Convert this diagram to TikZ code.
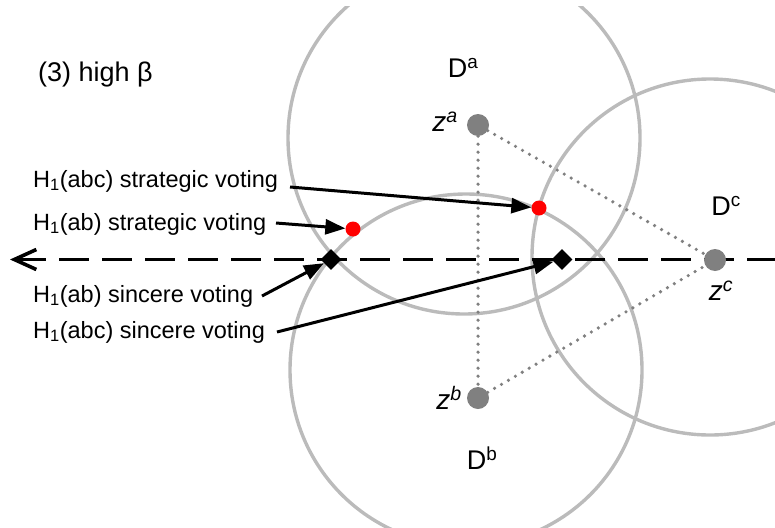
\documentclass[tikz,border=0pt]{standalone}
\usepackage{fontspec}
\setmainfont{Liberation Sans}
\usetikzlibrary{arrows.meta,shapes.geometric}
\definecolor{circgray}{RGB}{187,187,187}
\definecolor{dotgray}{RGB}{128,128,128}
\definecolor{hred}{RGB}{255,0,0}
\begin{document}
\begin{tikzpicture}[x=1pt,y=-1pt,
  region/.style={draw=circgray, line width=3.4pt},
  ideal/.style={circle, fill=dotgray, minimum size=22pt, inner sep=0pt},
  hvote/.style={circle, fill=hred, minimum size=15pt, inner sep=0pt},
  svote/.style={diamond, fill=black, minimum size=21pt, inner sep=0pt},
  link/.style={draw=dotgray, line width=3.6pt, line cap=round, dash pattern=on 0pt off 8pt},
  pointer/.style={draw=black, line width=3pt, -{Triangle[length=20pt,width=15pt]}},
  axisline/.style={draw=black, line width=3.6pt, dash pattern=on 30pt off 13pt, {Straight Barb[length=22pt,width=20pt]}-},
  lab/.style={font=\fontsize{23.5}{28}\selectfont, anchor=base west, inner sep=0pt},
  titlelab/.style={font=\fontsize{27}{32}\selectfont, anchor=base west, inner sep=0pt},
  biglab/.style={font=\fontsize{27}{32}\selectfont, inner sep=0pt},
  zlab/.style={font=\fontsize{28}{32}\selectfont, inner sep=0pt}
]
\useasboundingbox (0,0) rectangle (775,527);
% regions
\begin{scope}
  \clip (0,7) rectangle (775,527);
  \draw[region] (464,138) circle[radius=176];
  \draw[region] (466,370) circle[radius=176];
  \draw[region] (710,257) circle[radius=178];
\end{scope}
% axis
\coordinate (tipL) at (10,259.5);
\coordinate (rEnd) at (775,259.5);
\draw[axisline] (tipL) -- (rEnd);
% ideal points
\node[ideal] (za) at (478,125) {};
\node[ideal] (zb) at (478,398) {};
\node[ideal] (zc) at (715,260) {};
\draw[link] (za) -- (zb);
\draw[link] (za) -- (zc);
\draw[link] (zb) -- (zc);
% votes
\node[hvote] (r1) at (353,229) {};
\node[hvote] (r2) at (539,208) {};
\node[svote] (d1) at (331,259.5) {};
\node[svote] (d2) at (562,259.5) {};
% labels
\node[titlelab] (title) at (38,81) {(3) high β};
\node[lab] (l1) at (33,187) {H\textsubscript{1}(abc) strategic voting};
\node[lab] (l2) at (33,230) {H\textsubscript{1}(ab) strategic voting};
\node[lab] (l3) at (33,302) {H\textsubscript{1}(ab) sincere voting};
\node[lab] (l4) at (33,338) {H\textsubscript{1}(abc) sincere voting};
\coordinate (s1) at (290,187);
\coordinate (s2) at (276,223);
\coordinate (s3) at (262,296);
\coordinate (s4) at (277,332);
\draw[pointer] (s1) -- (r2);
\draw[pointer] (s2) -- (r1);
\draw[pointer] (s3) -- (d1);
\draw[pointer] (s4) -- (d2);
\node[biglab] (Da) at (463,68) {D\textsuperscript{a}};
\node[biglab] (Db) at (482,458) {D\textsuperscript{b}};
\node[biglab] (Dc) at (726,206) {D\textsuperscript{c}};
\node[zlab] (zal) at (445,122) {\textit{z}\textsuperscript{\textit{a}}};
\node[zlab] (zbl) at (449,398) {\textit{z}\textsuperscript{\textit{b}}};
\node[zlab] (zcl) at (721,291) {\textit{z}\textsuperscript{\textit{c}}};
\end{tikzpicture}
\end{document}
